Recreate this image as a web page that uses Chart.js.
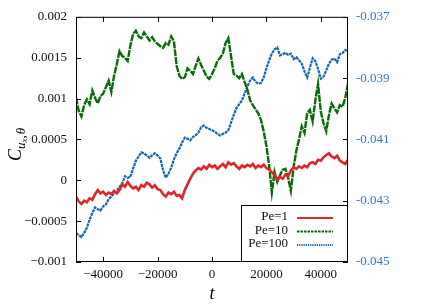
<!DOCTYPE html>
<html>
<head>
<meta charset="utf-8">
<script src="https://cdn.jsdelivr.net/npm/chart.js@4/dist/chart.umd.min.js"></script>
<style>
  html, body { margin: 0; padding: 0; background: #fff; }
  #wrap { width: 436px; height: 305px; }
</style>
</head>
<body>
<div id="wrap"><canvas id="myChart" width="436" height="305"></canvas></div>
<script>
// Time values (x axis)
const times = [
    -50000, -49000, -48000, -47000, -46000, -45000, -44000, -43000, -42000, -41000,
    -40000, -39000, -38000, -37000, -36000, -35000, -34000, -33000, -32000, -31000,
    -30000, -29000, -28000, -27000, -26000, -25000, -24000, -23000, -22000, -21000,
    -20000, -19000, -18000, -17000, -16000, -15000, -14000, -13000, -12000, -11000,
    -10000, -9000, -8000, -7000, -6000, -5000, -4000, -3000, -2000, -1000,
    0, 1000, 2000, 3000, 4000, 5000, 6000, 7000, 8000, 9000,
    10000, 11000, 12000, 13000, 14000, 15000, 16000, 17000, 18000, 19000,
    20000, 21000, 22000, 23000, 24000, 25000, 26000, 27000, 28000, 29000,
    30000, 31000, 32000, 33000, 34000, 35000, 36000, 37000, 38000, 39000,
    40000, 41000, 42000, 43000, 44000, 45000, 46000, 47000, 48000, 49000,
    50000
];

// Pe=1 (left axis)
const pe1 = [
    -0.00020, -0.00026, -0.00029, -0.00025, -0.00027, -0.00022, -0.00024, -0.00017, -0.00012, -0.00016,
    -0.00014, -0.00018, -0.00015, -0.00017, -0.00013, -0.00016, -0.00012, -0.00005, -0.00008, -0.00002,
    -0.00007, -0.00010, -0.00008, -0.00012, -0.00006, -0.00008, -0.00003, -0.00005, -0.00009, -0.00006,
    -0.00011, -0.00012, -0.00017, -0.00020, -0.00015, -0.00017, -0.00014, -0.00019, -0.00018, -0.00022,
    -0.00012, -0.00005, 0.00002, 0.00008, 0.00012, 0.00015, 0.00013, 0.00017, 0.00014, 0.00019,
    0.00016, 0.00018, 0.00014, 0.00017, 0.00020, 0.00016, 0.00022, 0.00019, 0.00021, 0.00017,
    0.00014, 0.00018, 0.00016, 0.00019, 0.00017, 0.00020, 0.00015, 0.00018, 0.00016, 0.00019,
    0.00015, 0.00013, 0.00010, 0.00006, 0.00001, 0.00004, 0.00002, 0.00007, 0.00005, 0.00012,
    0.00016, 0.00014, 0.00017, 0.00015, 0.00018, 0.00016, 0.00021, 0.00022, 0.00020, 0.00025,
    0.00024, 0.00028, 0.00031, 0.00033, 0.00029, 0.00027, 0.00030, 0.00024, 0.00022, 0.00020,
    0.00025
];

// Pe=10 (left axis)
const pe10 = [
    0.00101, 0.00085, 0.00078, 0.00092, 0.00099, 0.00093, 0.00110, 0.00101, 0.00094, 0.00103,
    0.00106, 0.00114, 0.00122, 0.00108, 0.00128, 0.00142, 0.00158, 0.00152, 0.00150, 0.00146,
    0.00165, 0.00179, 0.00183, 0.00176, 0.00174, 0.00181, 0.00176, 0.00171, 0.00175, 0.00170,
    0.00167, 0.00164, 0.00162, 0.00168, 0.00166, 0.00176, 0.00170, 0.00140, 0.00128, 0.00124,
    0.00126, 0.00137, 0.00134, 0.00130, 0.00140, 0.00149, 0.00141, 0.00134, 0.00127, 0.00124,
    0.00130, 0.00137, 0.00146, 0.00150, 0.00155, 0.00168, 0.00174, 0.00152, 0.00130, 0.00128,
    0.00125, 0.00130, 0.00120, 0.00111, 0.00098, 0.00092, 0.00087, 0.00082, 0.00074, 0.00060,
    0.00042, 0.00018, -0.00015, 0.00010, -0.00002, 0.00006, 0.00013, 0.00014, 0.00003, -0.00013,
    0.00016, 0.00036, 0.00050, 0.00066, 0.00058, 0.00082, 0.00086, 0.00072, 0.00098, 0.00118,
    0.00084, 0.00070, 0.00060, 0.00080, 0.00094, 0.00088, 0.00083, 0.00092, 0.00090, 0.00101,
    0.00118
];

// Pe=100 (right axis)
const pe100 = [
    -0.04406, -0.04412, -0.04419, -0.04405, -0.04388, -0.04362, -0.04340, -0.04322, -0.04328, -0.04332,
    -0.04318, -0.04312, -0.04295, -0.04286, -0.04276, -0.04268, -0.04255, -0.04243, -0.04220, -0.04226,
    -0.04222, -0.04194, -0.04170, -0.04156, -0.04142, -0.04146, -0.04152, -0.04160, -0.04152, -0.04145,
    -0.04153, -0.04162, -0.04200, -0.04225, -0.04212, -0.04192, -0.04165, -0.04145, -0.04130, -0.04110,
    -0.04094, -0.04098, -0.04103, -0.04092, -0.04086, -0.04078, -0.04060, -0.04055, -0.04062, -0.04066,
    -0.04070, -0.04075, -0.04082, -0.04087, -0.04082, -0.04078, -0.04070, -0.04045, -0.04020, -0.03998,
    -0.03985, -0.03973, -0.03950, -0.03928, -0.03908, -0.03898, -0.03912, -0.03918, -0.03916, -0.03898,
    -0.03868, -0.03842, -0.03820, -0.03806, -0.03800, -0.03826, -0.03822, -0.03817, -0.03824, -0.03820,
    -0.03838, -0.03832, -0.03842, -0.03853, -0.03878, -0.03898, -0.03866, -0.03835, -0.03845, -0.03870,
    -0.03902, -0.03895, -0.03875, -0.03853, -0.03840, -0.03836, -0.03848, -0.03822, -0.03818, -0.03808,
    -0.03815
];

// Tick values and labels
const xTicks = [-40000, -20000, 0, 20000, 40000];
const xTickLabels = ["\u221240000", "\u221220000", "0", "20000", "40000"];
const yTicks = [-0.001, -0.0005, 0, 0.0005, 0.001, 0.0015, 0.002];
const yTickLabels = ["\u22120.001", "\u22120.0005", "0", "0.0005", "0.001", "0.0015", "0.002"];
const y2Ticks = [-0.045, -0.043, -0.041, -0.039, -0.037];
const y2TickLabels = ["-0.045", "-0.043", "-0.041", "-0.039", "-0.037"];

const serif = '"Liberation Serif", "DejaVu Serif", serif';
const axisBlue = '#2f7cc3';

function toPoints(ys) {
    return ys.map((y, i) => ({ x: times[i], y: y }));
}

// Frame, inward ticks, legend box and axis titles
const decorPlugin = {
    id: 'decor',
    afterDraw(chart) {
        const ctx = chart.ctx;
        const a = chart.chartArea;
        const sx = chart.scales.x, sy = chart.scales.y, sy2 = chart.scales.y2;
        const tl = 5;
        ctx.save();
        ctx.strokeStyle = '#000';
        ctx.lineWidth = 1;
        ctx.strokeRect(a.left + 0.5, a.top + 0.5, a.right - a.left - 1, a.bottom - a.top - 1);

        ctx.beginPath();
        xTicks.forEach(v => {
            const px = Math.round(sx.getPixelForValue(v)) + 0.5;
            ctx.moveTo(px, a.bottom); ctx.lineTo(px, a.bottom - tl);
            ctx.moveTo(px, a.top); ctx.lineTo(px, a.top + tl);
        });
        yTicks.forEach(v => {
            const py = Math.round(sy.getPixelForValue(v)) + 0.5;
            ctx.moveTo(a.left, py); ctx.lineTo(a.left + tl, py);
        });
        y2Ticks.forEach(v => {
            const py = Math.round(sy2.getPixelForValue(v)) + 0.5;
            ctx.moveTo(a.right, py); ctx.lineTo(a.right - tl, py);
        });
        ctx.stroke();

        // Legend
        const bw = 107, bh = 57;
        const bx = a.right - bw, by = a.bottom - bh;
        ctx.fillStyle = '#fff';
        ctx.fillRect(bx, by, bw, bh);
        ctx.strokeRect(bx + 0.5, by + 0.5, bw - 1, bh - 1);
        ctx.font = '13px ' + serif;
        ctx.textAlign = 'right';
        ctx.textBaseline = 'middle';
        chart.data.datasets.forEach((ds, i) => {
            const yy = by + 12 + i * 13.5;
            ctx.fillStyle = '#111';
            ctx.fillText(ds.label, bx + 47, yy);
            ctx.save();
            ctx.strokeStyle = ds.borderColor;
            ctx.lineWidth = 2;
            ctx.setLineDash(ds.legendDash || []);
            ctx.beginPath();
            ctx.moveTo(bx + 56, yy + 1);
            ctx.lineTo(bx + 92, yy + 1);
            ctx.stroke();
            ctx.restore();
        });

        // x title
        ctx.fillStyle = '#000';
        ctx.textAlign = 'center';
        ctx.textBaseline = 'alphabetic';
        ctx.font = 'italic 18px ' + serif;
        ctx.fillText('t', (a.left + a.right) / 2, 299);

        // y title: C_{u_x,θ}
        ctx.translate(21, 161);
        ctx.rotate(-Math.PI / 2);
        ctx.textAlign = 'left';
        let x = 0;
        ctx.font = 'italic 18px ' + serif;
        ctx.fillText('C', x, 0);
        x += ctx.measureText('C').width;
        ctx.font = 'italic 13px ' + serif;
        ctx.fillText('u', x, 4);
        x += ctx.measureText('u').width;
        ctx.font = 'italic 9px ' + serif;
        ctx.fillText('x', x, 6);
        x += ctx.measureText('x').width;
        ctx.font = '13px ' + serif;
        ctx.fillText(',', x, 4);
        x += ctx.measureText(',').width + 1;
        ctx.font = 'italic 13px ' + serif;
        ctx.fillText('\u03b8', x, 4);
        ctx.restore();
    }
};

function main() {
    new Chart(document.getElementById("myChart"), {
        type: "line",
        data: {
            datasets: [
                { label: "Pe=1", data: toPoints(pe1), yAxisID: 'y', borderColor: '#e3242b', borderWidth: 2.6 },
                { label: "Pe=10", data: toPoints(pe10), yAxisID: 'y', borderColor: '#0a6a0a', borderWidth: 2.4, borderDash: [7, 1], legendDash: [2.5, 1] },
                { label: "Pe=100", data: toPoints(pe100), yAxisID: 'y2', borderColor: '#1565b5', borderWidth: 2.2, borderDash: [3, 0.8], legendDash: [1.2, 1] }
            ]
        },
        options: {
            responsive: false,
            animation: false,
            layout: { padding: { top: 16, left: 0, right: 0, bottom: 0 } },
            elements: { point: { radius: 0 }, line: { tension: 0 } },
            plugins: { legend: { display: false }, tooltip: { enabled: false } },
            scales: {
                x: {
                    type: 'linear', min: -50000, max: 50000,
                    afterBuildTicks: s => { s.ticks = xTicks.map(v => ({ value: v })); },
                    afterFit: s => { s.height = 43; },
                    grid: { display: false, drawTicks: false }, border: { display: false },
                    ticks: { callback: (v, i) => xTickLabels[i], color: '#111', font: { family: serif, size: 13 }, padding: 5, maxRotation: 0, autoSkip: false }
                },
                y: {
                    position: 'left', min: -0.001, max: 0.002,
                    afterBuildTicks: s => { s.ticks = yTicks.map(v => ({ value: v })); },
                    afterFit: s => { s.width = 76; },
                    grid: { display: false, drawTicks: false }, border: { display: false },
                    ticks: { callback: (v, i) => yTickLabels[i], color: '#111', font: { family: serif, size: 13 }, padding: 9, autoSkip: false }
                },
                y2: {
                    position: 'right', min: -0.045, max: -0.037,
                    afterBuildTicks: s => { s.ticks = y2Ticks.map(v => ({ value: v })); },
                    afterFit: s => { s.width = 88; },
                    grid: { display: false, drawTicks: false }, border: { display: false },
                    ticks: { callback: (v, i) => y2TickLabels[i], color: axisBlue, font: { family: serif, size: 13 }, padding: 8, autoSkip: false }
                }
            }
        },
        plugins: [decorPlugin]
    });
}

document.addEventListener('DOMContentLoaded', main);
</script>
</body>
</html>
